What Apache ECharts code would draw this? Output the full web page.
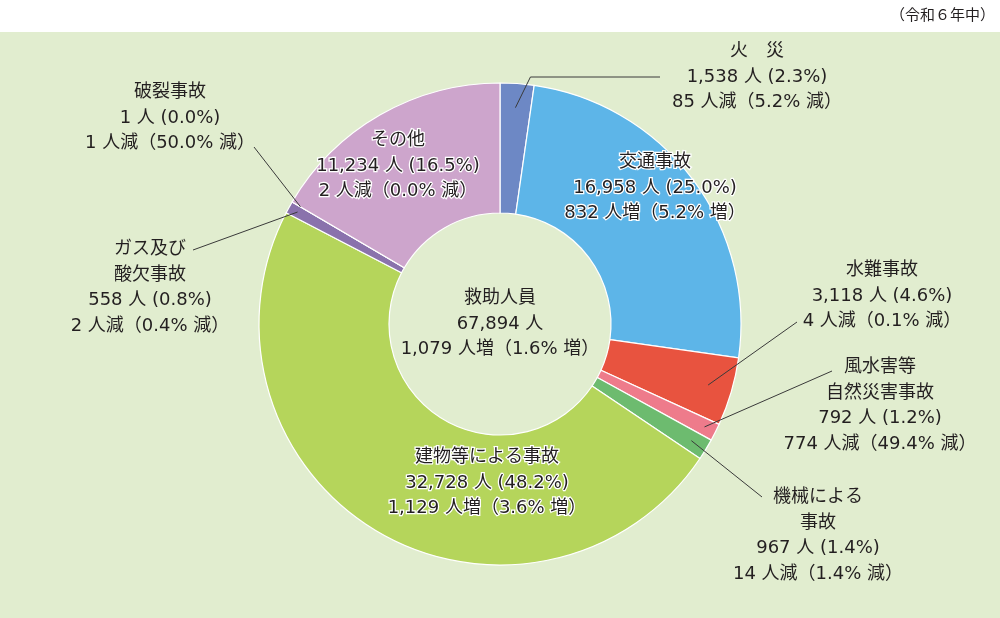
<!DOCTYPE html>
<html>
<head>
<meta charset="utf-8">
<title>救助人員の事故種別状況（令和6年中）</title>
<script src="https://cdn.jsdelivr.net/npm/echarts@6/dist/echarts.min.js"></script>
<style>
  html, body { margin: 0; padding: 0; background: #fff; }
  #main { width: 1000px; height: 618px; }
</style>
</head>
<body>
<div id="main"></div>
<script>
// 事故種別（12時の位置から時計回り）
var categories = ['火災', '交通事故', '水難事故', '風水害等自然災害事故', '機械による事故', '建物等による事故', 'ガス及び酸欠事故', '破裂事故', 'その他'];
var labelNames = ['火　災', '交通事故', '水難事故', '風水害等\n自然災害事故', '機械による\n事故', '建物等による事故', 'ガス及び\n酸欠事故', '破裂事故', 'その他'];
var persons = [1538, 16958, 3118, 792, 967, 32728, 558, 1, 11234];
var shares = ['2.3', '25.0', '4.6', '1.2', '1.4', '48.2', '0.8', '0.0', '16.5'];
var changes = [-85, 832, -4, -774, -14, 1129, -2, -1, -2];
var changeRates = ['5.2', '5.2', '0.1', '49.4', '1.4', '3.6', '0.4', '50.0', '0.0'];
var totalLines = ['救助人員', '67,894 人', '1,079 人増（1.6% 増）'];

var colors = ['#6d88c5', '#5db5e8', '#e8533f', '#ee7b8b', '#6dbb6f', '#b5d55b', '#8a72ac', '#8a72ac', '#cda5cc'];

var FONT = '"DejaVu Sans", "Noto Sans CJK JP"';
var FONT_SIZE = 18;
var CX = 500, CY = 324, R0 = 111, R1 = 241;

// ラベル位置と引出線（見た目の調整用）
var labelPos = [
    { x: 757, y: 77, frac: 0.9, end: [-97, 0], bend: true },
    { x: 655, y: 188, inside: true },
    { x: 882, y: 296, frac: 0.9, end: [-85, 26] },
    { x: 880, y: 406, frac: 0.95, end: [-48, -35] },
    { x: 818, y: 536, frac: 0.93, end: [-56, -39] },
    { x: 487, y: 483, inside: true },
    { x: 150, y: 288, frac: 0.96, end: [43, -38] },
    { x: 170, y: 118, frac: 0.96, end: [84, 29] },
    { x: 398, y: 166, inside: true }
];

var total = 0;
for (var k = 0; k < persons.length; k++) total += persons[k];

// 扇形の中心角（12時から時計回り、ラジアン）
function midAngle(i) {
    var c = 0;
    for (var j = 0; j < i; j++) c += persons[j];
    return (c + persons[i] / 2) / total * Math.PI * 2;
}

function fmt(n) {
    return Math.abs(n).toLocaleString('en-US');
}

function labelText(i) {
    var word = changes[i] >= 0 ? '増' : '減';
    return labelNames[i] + '\n' +
        fmt(persons[i]) + ' 人 (' + shares[i] + '%)\n' +
        fmt(changes[i]) + ' 人' + word + '（' + changeRates[i] + '% ' + word + '）';
}

var data = [];
var leaderLines = [];
for (var i = 0; i < categories.length; i++) {
    var s = labelPos[i];
    data.push({
        name: categories[i],
        value: persons[i],
        itemStyle: { color: colors[i] },
        label: s.inside ? { textBorderColor: '#fff', textBorderWidth: 2.5 } : {}
    });
    if (!s.inside) {
        // 扇形の内側から文字の近くまで引出線
        var a = midAngle(i);
        var sx = CX + R1 * s.frac * Math.sin(a);
        var sy = CY - R1 * s.frac * Math.cos(a);
        var ex = s.x + s.end[0];
        var ey = s.y + s.end[1];
        leaderLines.push({
            type: 'polyline',
            z: 100,
            silent: true,
            shape: { points: s.bend ? [[sx, sy], [sx + 15, ey], [ex, ey]] : [[sx, sy], [ex, ey]] },
            style: { stroke: '#3a3a3a', lineWidth: 1, fill: null }
        });
    }
}

var chartDom = document.getElementById('main');
var myChart = echarts.init(chartDom);

var option = {
    animation: false,
    graphic: [
        {
            type: 'rect',
            z: -10,
            shape: { x: 0, y: 32, width: 1000, height: 586 },
            style: { fill: '#e1edcf' }
        },
        {
            type: 'text',
            x: 995,
            y: 14,
            style: {
                text: '（令和６年中）',
                align: 'right',
                verticalAlign: 'middle',
                font: '15px "Noto Sans CJK JP"',
                fill: '#231f20'
            }
        },
        {
            type: 'text',
            x: CX,
            y: CY,
            z: 10,
            style: {
                text: totalLines.join('\n'),
                align: 'center',
                verticalAlign: 'middle',
                font: FONT_SIZE + 'px ' + FONT,
                lineHeight: 25.5,
                fill: '#231f20'
            }
        }
    ].concat(leaderLines),
    series: [
        {
            type: 'pie',
            center: [CX, CY],
            radius: [R0, R1],
            startAngle: 90,
            clockwise: true,
            avoidLabelOverlap: false,
            itemStyle: { borderColor: '#fff', borderWidth: 1.2 },
            label: {
                show: true,
                position: 'inside',
                formatter: function (p) { return labelText(p.dataIndex); },
                fontFamily: FONT,
                fontSize: FONT_SIZE,
                lineHeight: 25.5,
                color: '#231f20',
                align: 'center'
            },
            labelLine: { show: false },
            labelLayout: function (p) {
                var s = labelPos[p.dataIndex];
                return { x: s.x, y: s.y, align: 'center', verticalAlign: 'middle' };
            },
            emphasis: { disabled: true },
            data: data
        }
    ]
};

myChart.setOption(option);
</script>
</body>
</html>
